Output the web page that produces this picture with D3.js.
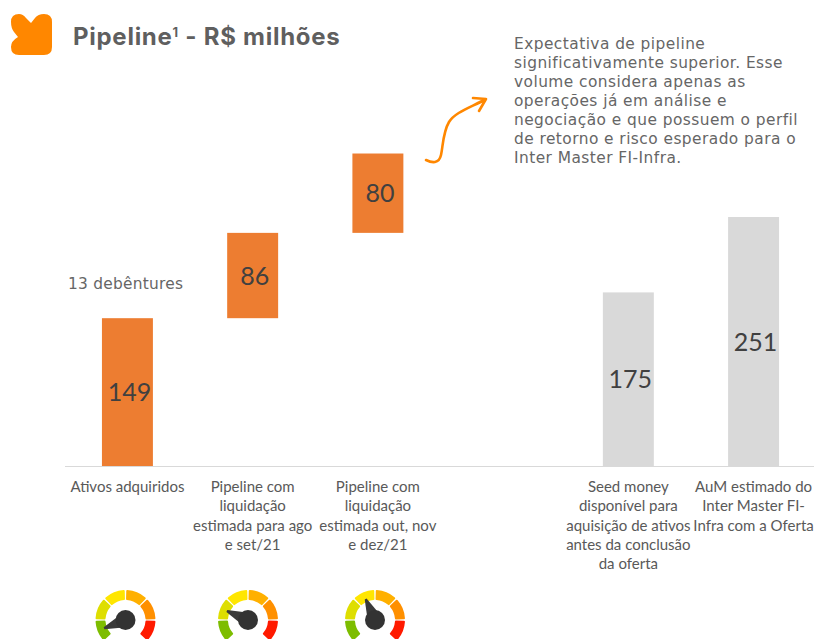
<!DOCTYPE html>
<html><head><meta charset="utf-8">
<script src="https://cdn.jsdelivr.net/npm/d3@7"></script>
<style>html,body{margin:0;padding:0;background:#fff;overflow:hidden}svg{display:block}</style>
</head><body><svg id="c" width="814" height="639"></svg>
<script>
const categories = ["Ativos adquiridos","Pipeline com liquidação estimada para ago e set/21","Pipeline com liquidação estimada out, nov e dez/21","","Seed money disponível para aquisição de ativos antes da conclusão da oferta","AuM estimado do Inter Master FI-Infra com a Oferta"];
const categoryLines = [["Ativos adquiridos"],["Pipeline com","liquidação","estimada para ago","e set/21"],["Pipeline com","liquidação","estimada out, nov","e dez/21"],[],["Seed money","disponível para","aquisição de ativos","antes da conclusão","da oferta"],["AuM estimado do","Inter Master FI-","Infra com a Oferta"]];
const barStarts = [0,149,235,null,0,0];
const barValues = [149,86,80,null,175,251];
const barColors = ["#ed7d31","#ed7d31","#ed7d31",null,"#d9d9d9","#d9d9d9"];
const noteLines = ["Expectativa de pipeline","significativamente superior. Esse","volume considera apenas as","operações já em análise e","negociação e que possuem o perfil","de retorno e risco esperado para o","Inter Master FI-Infra."];
const gaugeCategories = [0,1,2];
const gaugeAngles = [-111,-67,-24];
const gaugeColors = ["#7dbd00","#dede00","#ffe600","#ffb000","#ff9000","#ff1a00"];

const svg = d3.select("#c");
const x = d3.scaleBand().domain(d3.range(categories.length)).range([65,816]).paddingInner(0.593).paddingOuter(0.295);
const y = d3.scaleLinear().domain([0,251]).range([466,217]);

// logo
svg.append("path").attr("fill","#ff8700")
 .attr("d","M11 22 Q11 14 19 14 Q23 14 26 18 L31 23 L35 18 Q38 14 44 14 Q52 14 52 22 L52 47 Q52 55 44 55 L19 55 Q11 55 11 47 Q11 41 18 37 L14 32 Q11 28 11 22 Z");
const title = svg.append("text").attr("x",73).attr("y",45).attr("font-family","Inter").attr("font-weight",700).attr("font-size",24).attr("letter-spacing",0.73).attr("fill","#5f5f5f");
title.append("tspan").text("Pipeline");
title.append("tspan").attr("font-size",13).attr("dy",-8).text("1");
title.append("tspan").attr("dy",8).text(" - R$ milhões");

// bars
const bars = d3.range(categories.length).filter(i=>barValues[i]!=null);
svg.append("g").selectAll("rect").data(bars).join("rect")
 .attr("x",i=>x(i)).attr("width",x.bandwidth())
 .attr("y",i=>y(barStarts[i]+barValues[i]))
 .attr("height",i=>y(barStarts[i])-y(barStarts[i]+barValues[i]))
 .attr("fill",i=>barColors[i]);
svg.append("line").attr("x1",65).attr("x2",814).attr("y1",466.5).attr("y2",466.5).attr("stroke","#d9d9d9").attr("stroke-width",1.2);
svg.append("g").selectAll("text").data(bars).join("text")
 .attr("x",i=>x(i)+x.bandwidth()/2+2)
 .attr("y",i=>y(barStarts[i]+barValues[i]/2)+9)
 .attr("text-anchor","middle").attr("font-family","Lato").attr("font-size",25).attr("fill","#404040")
 .text(i=>barValues[i]);

// category labels
const lab = svg.append("g").attr("font-family","Lato").attr("font-size",15).attr("fill","#595959").attr("text-anchor","middle");
categoryLines.forEach((ls,i)=>ls.forEach((t,j)=>{
  lab.append("text").attr("x",x(i)+x.bandwidth()/2).attr("y",492+j*19.3).text(t);
}));

svg.append("text").attr("x",68).attr("y",289).attr("font-family","DejaVu Sans").attr("font-size",15.4).attr("letter-spacing",0.25).attr("fill","#666").text("13 debêntures");

// note
const note = svg.append("g").attr("font-family","DejaVu Sans").attr("font-size",15.4).attr("letter-spacing",0.45).attr("fill","#666");
noteLines.forEach((t,j)=>note.append("text").attr("x",514).attr("y",49+j*19).text(t));

// arrow
svg.append("path").attr("fill","none").attr("stroke","#ff8700").attr("stroke-width",2.6).attr("stroke-linecap","round").attr("stroke-linejoin","round")
 .attr("d","M426 160 C432 163 439 164 441 155 C443 146 443 132 449 122 C455 112 472 107 486 99 M473 98 L486 99 L479 111");

// gauges
const gaugeCx = [125.5,248,375], gaugeCy=620;
const arc = d3.arc().innerRadius(20).outerRadius(30).cornerRadius(1);
gaugeCategories.forEach(g=>{
  const G = svg.append("g").attr("transform",`translate(${gaugeCx[g]},${gaugeCy})`);
  const a = d3.scaleLinear().domain([0,6]).range([-135,135]);
  G.selectAll("path").data(gaugeColors).join("path")
   .attr("d",(d,i)=>arc({startAngle:(a(i)+1.5)*Math.PI/180,endAngle:(a(i+1)-1.5)*Math.PI/180}))
   .attr("fill",d=>d);
  const n = G.append("g").attr("transform",`rotate(${gaugeAngles[g]})`);
  n.append("path").attr("d","M-7 -2 L-1 -23 L1 -23 L7 -2 Z").attr("fill","#3a3a3a");
  G.append("circle").attr("r",10).attr("fill","#333");
});
</script></body></html>
